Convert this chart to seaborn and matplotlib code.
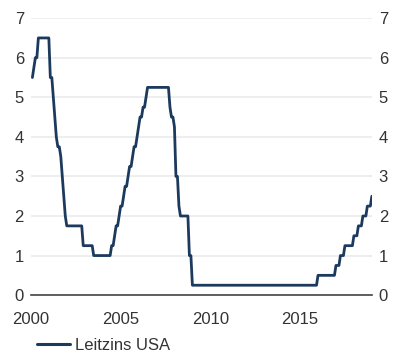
import matplotlib
matplotlib.use("Agg")
import matplotlib.pyplot as plt
from matplotlib.lines import Line2D
import seaborn as sns
import pandas as pd

# Federal funds target rate (upper bound, %) at each month end, Jan 2000 - Dec 2018,
# written as runs of (rate, number of months)
rate_levels = [
    5.50, 5.75, 6.00, 6.50,
    5.50, 5.00, 4.50, 4.00, 3.75, 3.50, 3.00, 2.50, 2.00,
    1.75, 1.25, 1.00,
    1.25, 1.50, 1.75, 2.00, 2.25, 2.50, 2.75, 3.00, 3.25, 3.50, 3.75, 4.00, 4.25,
    4.50, 4.75, 5.00, 5.25,
    4.75, 4.50, 4.25, 3.00, 2.25, 2.00, 1.00, 0.25,
    0.50, 0.75, 1.00, 1.25, 1.50, 1.75, 2.00, 2.25, 2.50,
]
run_months = [
    1, 1, 2, 8,
    2, 1, 1, 1, 2, 1, 1, 1, 1,
    11, 7, 12,
    2, 1, 2, 1, 2, 1, 2, 1, 2, 1, 2, 1, 1,
    2, 2, 1, 15,
    1, 2, 1, 2, 1, 6, 2, 84,
    12, 3, 3, 6, 3, 3, 3, 3, 1,
]
first_year = 2000
series_name = "Leitzins USA"
y_ticks = [0, 1, 2, 3, 4, 5, 6, 7]
x_ticks = [2000, 2005, 2010, 2015]

# Expand the runs into one row per month; x is the month end as a decimal year
monthly_rates = [r for r, n in zip(rate_levels, run_months) for _ in range(n)]
df = pd.DataFrame({
    "Jahr": [first_year + (i + 1) / 12 for i in range(len(monthly_rates))],
    "Zins": monthly_rates,
    "Serie": series_name,
})

sns.set_theme(style="white")
plt.rcParams["font.family"] = ["Liberation Sans", "DejaVu Sans"]

fig = plt.figure(figsize=(3.96, 3.56), dpi=100)
ax = fig.add_axes([0.078, 0.171, 0.861, 0.778])

line_color = "#1c3a5e"
sns.lineplot(data=df, x="Jahr", y="Zins", hue="Serie", palette=[line_color],
             linewidth=2.0, ax=ax, legend=False)

ax.set_xlim(2000, 2019.0)
ax.set_ylim(0, 7)
ax.set_yticks(y_ticks)
ax.set_xticks(x_ticks)
ax.set_xticklabels([str(t) for t in x_ticks])
ax.set_xlabel("")
ax.set_ylabel("")

ax.grid(axis="y", color="#ebebeb", linewidth=1.2)
ax.set_axisbelow(True)
for side in ["top", "right", "left"]:
    ax.spines[side].set_visible(False)
ax.spines["bottom"].set_color("#444444")
ax.spines["bottom"].set_linewidth(1.2)

ax.tick_params(axis="x", direction="out", length=6, width=1.2, color="#444444",
               labelsize=12, labelcolor="#333333", pad=6)
ax.tick_params(axis="y", length=0, labelsize=12, labelcolor="#333333", pad=5,
               left=False, right=False, labelleft=True, labelright=True)

handle = Line2D([0], [0], color=line_color, linewidth=2.2)
fig.legend([handle], [series_name], loc="lower left",
           bbox_to_anchor=(0.055, -0.034), frameon=False, fontsize=12,
           handlelength=2.0, handletextpad=0.3, labelcolor="#333333")

fig.savefig("out.png", dpi=100)
